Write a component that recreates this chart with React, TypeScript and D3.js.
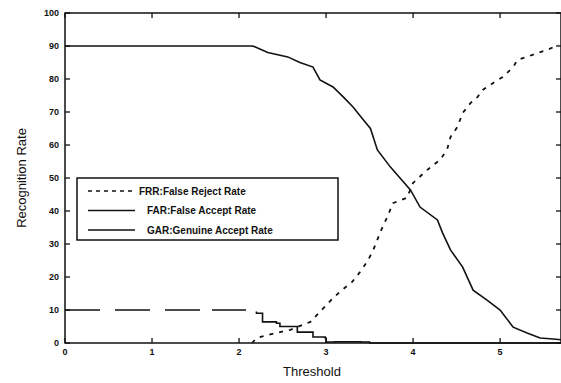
import React, { useEffect, useRef } from 'react';
import * as d3 from 'd3';

// threshold values and rates (%)
const garT = [0, 2.16, 2.33, 2.56, 2.7, 2.85, 2.93, 3.08, 3.2, 3.31, 3.43, 3.51, 3.59, 3.74, 3.85, 3.97, 4.08, 4.28, 4.34, 4.43, 4.57, 4.69, 4.85, 5.0, 5.15, 5.31, 5.46, 5.61, 5.7];
const garV = [90, 90, 88, 86.7, 85, 83.6, 79.7, 77.6, 74.5, 71.5, 67.6, 65, 58.5, 53.3, 50, 46.4, 41.2, 37.3, 33.3, 28.2, 23, 16, 13, 10, 4.8, 3, 1.5, 1.2, 1];

const frrT = [2.15, 2.2, 2.32, 2.47, 2.59, 2.82, 2.95, 3.08, 3.18, 3.3, 3.39, 3.48, 3.54, 3.63, 3.7, 3.77, 3.93, 4.0, 4.16, 4.31, 4.39, 4.43, 4.51, 4.57, 4.66, 4.74, 4.8, 4.92, 5.03, 5.15, 5.2, 5.31, 5.43, 5.54, 5.67];
const frrV = [0, 1.5, 2.4, 3.3, 4, 6.4, 10, 13.6, 16, 18.5, 21.5, 25, 28, 34, 38, 42.4, 44, 48.5, 52.4, 55.5, 58.5, 62.4, 65.5, 69.7, 72.7, 74.5, 76.7, 78.8, 80.6, 83.6, 85.8, 86.7, 87.9, 88.8, 90.3];

const farT = [0, 2.08, 2.2, 2.27, 2.43, 2.47, 2.67, 2.85, 2.99, 3.0, 3.1, 3.4, 3.5, 5.7];
const farV = [10, 10, 9, 6.4, 6, 5, 3.3, 1.8, 1.5, 0.3, 0.4, 0.3, 0, 0];

const xTicks = [0, 1, 2, 3, 4, 5];
const yTicks = [0, 10, 20, 30, 40, 50, 60, 70, 80, 90, 100];

const legendItems = [
  { label: 'FRR:False Reject Rate', dash: '4,4' },
  { label: 'FAR:False Accept Rate', dash: null },
  { label: 'GAR:Genuine Accept Rate', dash: null },
];

export default function App() {
  const ref = useRef<SVGSVGElement>(null);

  useEffect(() => {
    if (!ref.current) return;
    const svg = d3.select(ref.current);
    svg.selectAll('*').remove();

    const W = 561, H = 383;
    const left = 65, right = 561, top = 13, bottom = 343;
    const x = d3.scaleLinear().domain([0, 5.7]).range([left, right]);
    const y = d3.scaleLinear().domain([0, 100]).range([bottom, top]);
    const font = 'Liberation Sans, Arial, sans-serif';
    const ink = '#111';

    svg.append('rect').attr('width', W).attr('height', H).attr('fill', '#fff');

    // frame
    svg.append('rect')
      .attr('x', left).attr('y', top)
      .attr('width', right - left).attr('height', bottom - top)
      .attr('fill', 'none').attr('stroke', ink).attr('stroke-width', 1.5);

    // inward ticks on all four sides
    const tl = 5;
    xTicks.forEach(t => {
      svg.append('line').attr('x1', x(t)).attr('x2', x(t)).attr('y1', bottom).attr('y2', bottom - tl).attr('stroke', ink).attr('stroke-width', 1.3);
      svg.append('line').attr('x1', x(t)).attr('x2', x(t)).attr('y1', top).attr('y2', top + tl).attr('stroke', ink).attr('stroke-width', 1.3);
      svg.append('text').attr('x', x(t)).attr('y', bottom + 12)
        .attr('text-anchor', 'middle').attr('font-family', font)
        .attr('font-size', 9).attr('font-weight', 'bold').attr('fill', ink).text(t);
    });
    yTicks.forEach(v => {
      svg.append('line').attr('x1', left).attr('x2', left + tl).attr('y1', y(v)).attr('y2', y(v)).attr('stroke', ink).attr('stroke-width', 1.3);
      svg.append('line').attr('x1', right).attr('x2', right - tl).attr('y1', y(v)).attr('y2', y(v)).attr('stroke', ink).attr('stroke-width', 1.3);
      svg.append('text').attr('x', left - 6).attr('y', y(v) + 3)
        .attr('text-anchor', 'end').attr('font-family', font)
        .attr('font-size', 9).attr('font-weight', 'bold').attr('fill', ink).text(v);
    });

    // axis titles
    svg.append('text').attr('x', 312).attr('y', 376)
      .attr('text-anchor', 'middle').attr('font-family', font)
      .attr('font-size', 13).attr('fill', ink).text('Threshold');
    svg.append('text').attr('transform', 'translate(26,178) rotate(-90)')
      .attr('text-anchor', 'middle').attr('font-family', font)
      .attr('font-size', 13).attr('fill', ink).text('Recognition Rate');

    const mk = (ts: number[], vs: number[], curve: d3.CurveFactory) =>
      d3.line<number>().x((_, i) => x(ts[i])).y(v => y(v)).curve(curve)(vs);

    // GAR
    svg.append('path').attr('d', mk(garT, garV, d3.curveLinear))
      .attr('fill', 'none').attr('stroke', ink).attr('stroke-width', 1.6);
    // FAR (the scan shows the 10% run broken into long pieces)
    svg.append('path').attr('d', mk(farT, farV, d3.curveStepAfter))
      .attr('fill', 'none').attr('stroke', ink).attr('stroke-width', 1.6)
      .attr('stroke-dasharray', '35,15,35,15,35,12,34,12,600');
    // FRR dotted
    svg.append('path').attr('d', mk(frrT, frrV, d3.curveLinear))
      .attr('fill', 'none').attr('stroke', ink).attr('stroke-width', 1.8)
      .attr('stroke-dasharray', '4,6');

    // legend
    const lx = 77, ly = 178, lw = 261, lh = 62;
    svg.append('rect').attr('x', lx).attr('y', ly).attr('width', lw).attr('height', lh)
      .attr('fill', '#fff').attr('stroke', ink).attr('stroke-width', 1.5);
    legendItems.forEach((d, i) => {
      const yy = ly + 13 + i * 19.5;
      const ln = svg.append('line').attr('x1', lx + 11).attr('x2', lx + 58).attr('y1', yy).attr('y2', yy)
        .attr('stroke', ink).attr('stroke-width', 1.6);
      if (d.dash) ln.attr('stroke-dasharray', d.dash);
      svg.append('text').attr('x', lx + 62 + (i === 0 ? 0 : 8)).attr('y', yy + 3.5)
        .attr('font-family', font).attr('font-size', 10)
        .attr('font-weight', 'bold').attr('fill', ink).text(d.label);
    });
  }, []);

  return (
    <svg ref={ref} width={561} height={383}
      style={{ position: 'absolute', left: 0, top: 0, display: 'block' }} />
  );
}
